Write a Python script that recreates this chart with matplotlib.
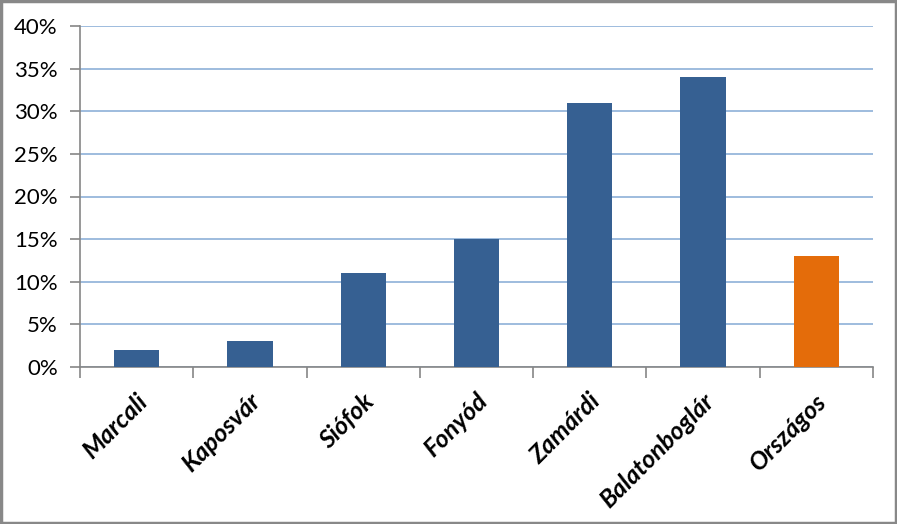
import matplotlib
matplotlib.use("Agg")
import matplotlib.pyplot as plt
from matplotlib.patches import Rectangle
from matplotlib.ticker import MultipleLocator, FuncFormatter, FixedLocator

categories = ["Marcali", "Kaposvár", "Siófok", "Fonyód", "Zamárdi", "Balatonboglár", "Országos"]
values = [2, 3, 11, 15, 31, 34, 13]
colors = ["#366092", "#366092", "#366092", "#366092", "#366092", "#366092", "#E46C0A"]

plt.rcParams['font.family'] = ['Lato', 'DejaVu Sans']

W, H = 897, 524
fig = plt.figure(figsize=(W / 100, H / 100), dpi=100)
ax = fig.add_axes([80 / W, 1 - 367 / H, (873 - 80) / W, (367 - 26) / H])

x = list(range(len(categories)))
ax.bar(x, values, width=0.4, color=colors, zorder=3)

ax.set_xlim(-0.5, len(categories) - 0.5)
ax.set_ylim(0, 40)
ax.yaxis.set_major_locator(MultipleLocator(5))
ax.yaxis.set_major_formatter(FuncFormatter(lambda v, p: f"{int(v)}%"))
ax.grid(axis='y', color='#8EB0D8', linewidth=1.2, zorder=0)

for s in ['top', 'right']:
    ax.spines[s].set_visible(False)
for s in ['left', 'bottom']:
    ax.spines[s].set_color('#868686')
    ax.spines[s].set_linewidth(1.2)

ax.tick_params(axis='y', length=7, width=1.2, color='#868686', labelsize=16, pad=9)
ax.xaxis.set_major_locator(FixedLocator([i - 0.5 for i in range(len(categories) + 1)]))
ax.xaxis.set_major_formatter(FuncFormatter(lambda v, p: ""))
ax.tick_params(axis='x', length=8, width=1.2, color='#868686')

for i, c in enumerate(categories):
    ax.annotate(c, xy=(i, 0), xycoords='data', xytext=(5, -22), textcoords='offset points',
                rotation=45, rotation_mode='anchor', ha='right', va='center',
                fontsize=18, fontweight='bold', fontstyle='italic')

fig.patches.append(Rectangle((0.0015, 0.0025), 0.997, 0.995, transform=fig.transFigure,
                             fill=False, edgecolor='#888888', linewidth=2.5))

fig.savefig("out.png", dpi=100)
